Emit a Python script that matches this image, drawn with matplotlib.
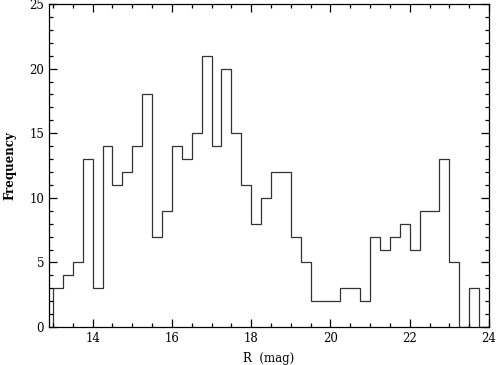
import numpy as np
import matplotlib
matplotlib.use('Agg')
import matplotlib.pyplot as plt
from matplotlib.ticker import MultipleLocator

# R magnitude histogram, bins of 0.25 mag starting at 13.0
bin_start = 13.0
bin_width = 0.25
counts = [3, 4, 5, 13, 3, 14, 11, 12, 14, 18, 7, 9, 14, 13, 15, 21,
          14, 20, 15, 11, 8, 10, 12, 12, 7, 5, 2, 2, 2, 3, 3, 2,
          7, 6, 7, 8, 6, 9, 9, 13, 5, 0, 3, 0]
edges = bin_start + bin_width * np.arange(len(counts) + 1)

plt.rcParams['font.family'] = ['DejaVu Serif']

fig = plt.figure(figsize=(4.97, 3.65), dpi=100)
ax = fig.add_axes([0.0986, 0.104, 0.8854, 0.885])

ax.stairs(counts, edges, color='#333333', linewidth=0.9)

ax.set_xlim(12.9, 24)
ax.set_ylim(0, 25)
ax.xaxis.set_major_locator(MultipleLocator(2))
ax.xaxis.set_minor_locator(MultipleLocator(0.5))
ax.yaxis.set_major_locator(MultipleLocator(5))
ax.yaxis.set_minor_locator(MultipleLocator(1))
ax.tick_params(which='both', direction='in', top=True, right=True,
               labelsize=8.5, width=0.9)
ax.tick_params(which='major', length=6)
ax.tick_params(which='minor', length=3)
for s in ax.spines.values():
    s.set_linewidth(0.9)

ax.set_xlabel('R  (mag)', fontsize=8.5, labelpad=5)
ax.set_ylabel('Frequency', fontsize=8.5, fontweight='bold', labelpad=9)

fig.savefig('out.png', dpi=100)
